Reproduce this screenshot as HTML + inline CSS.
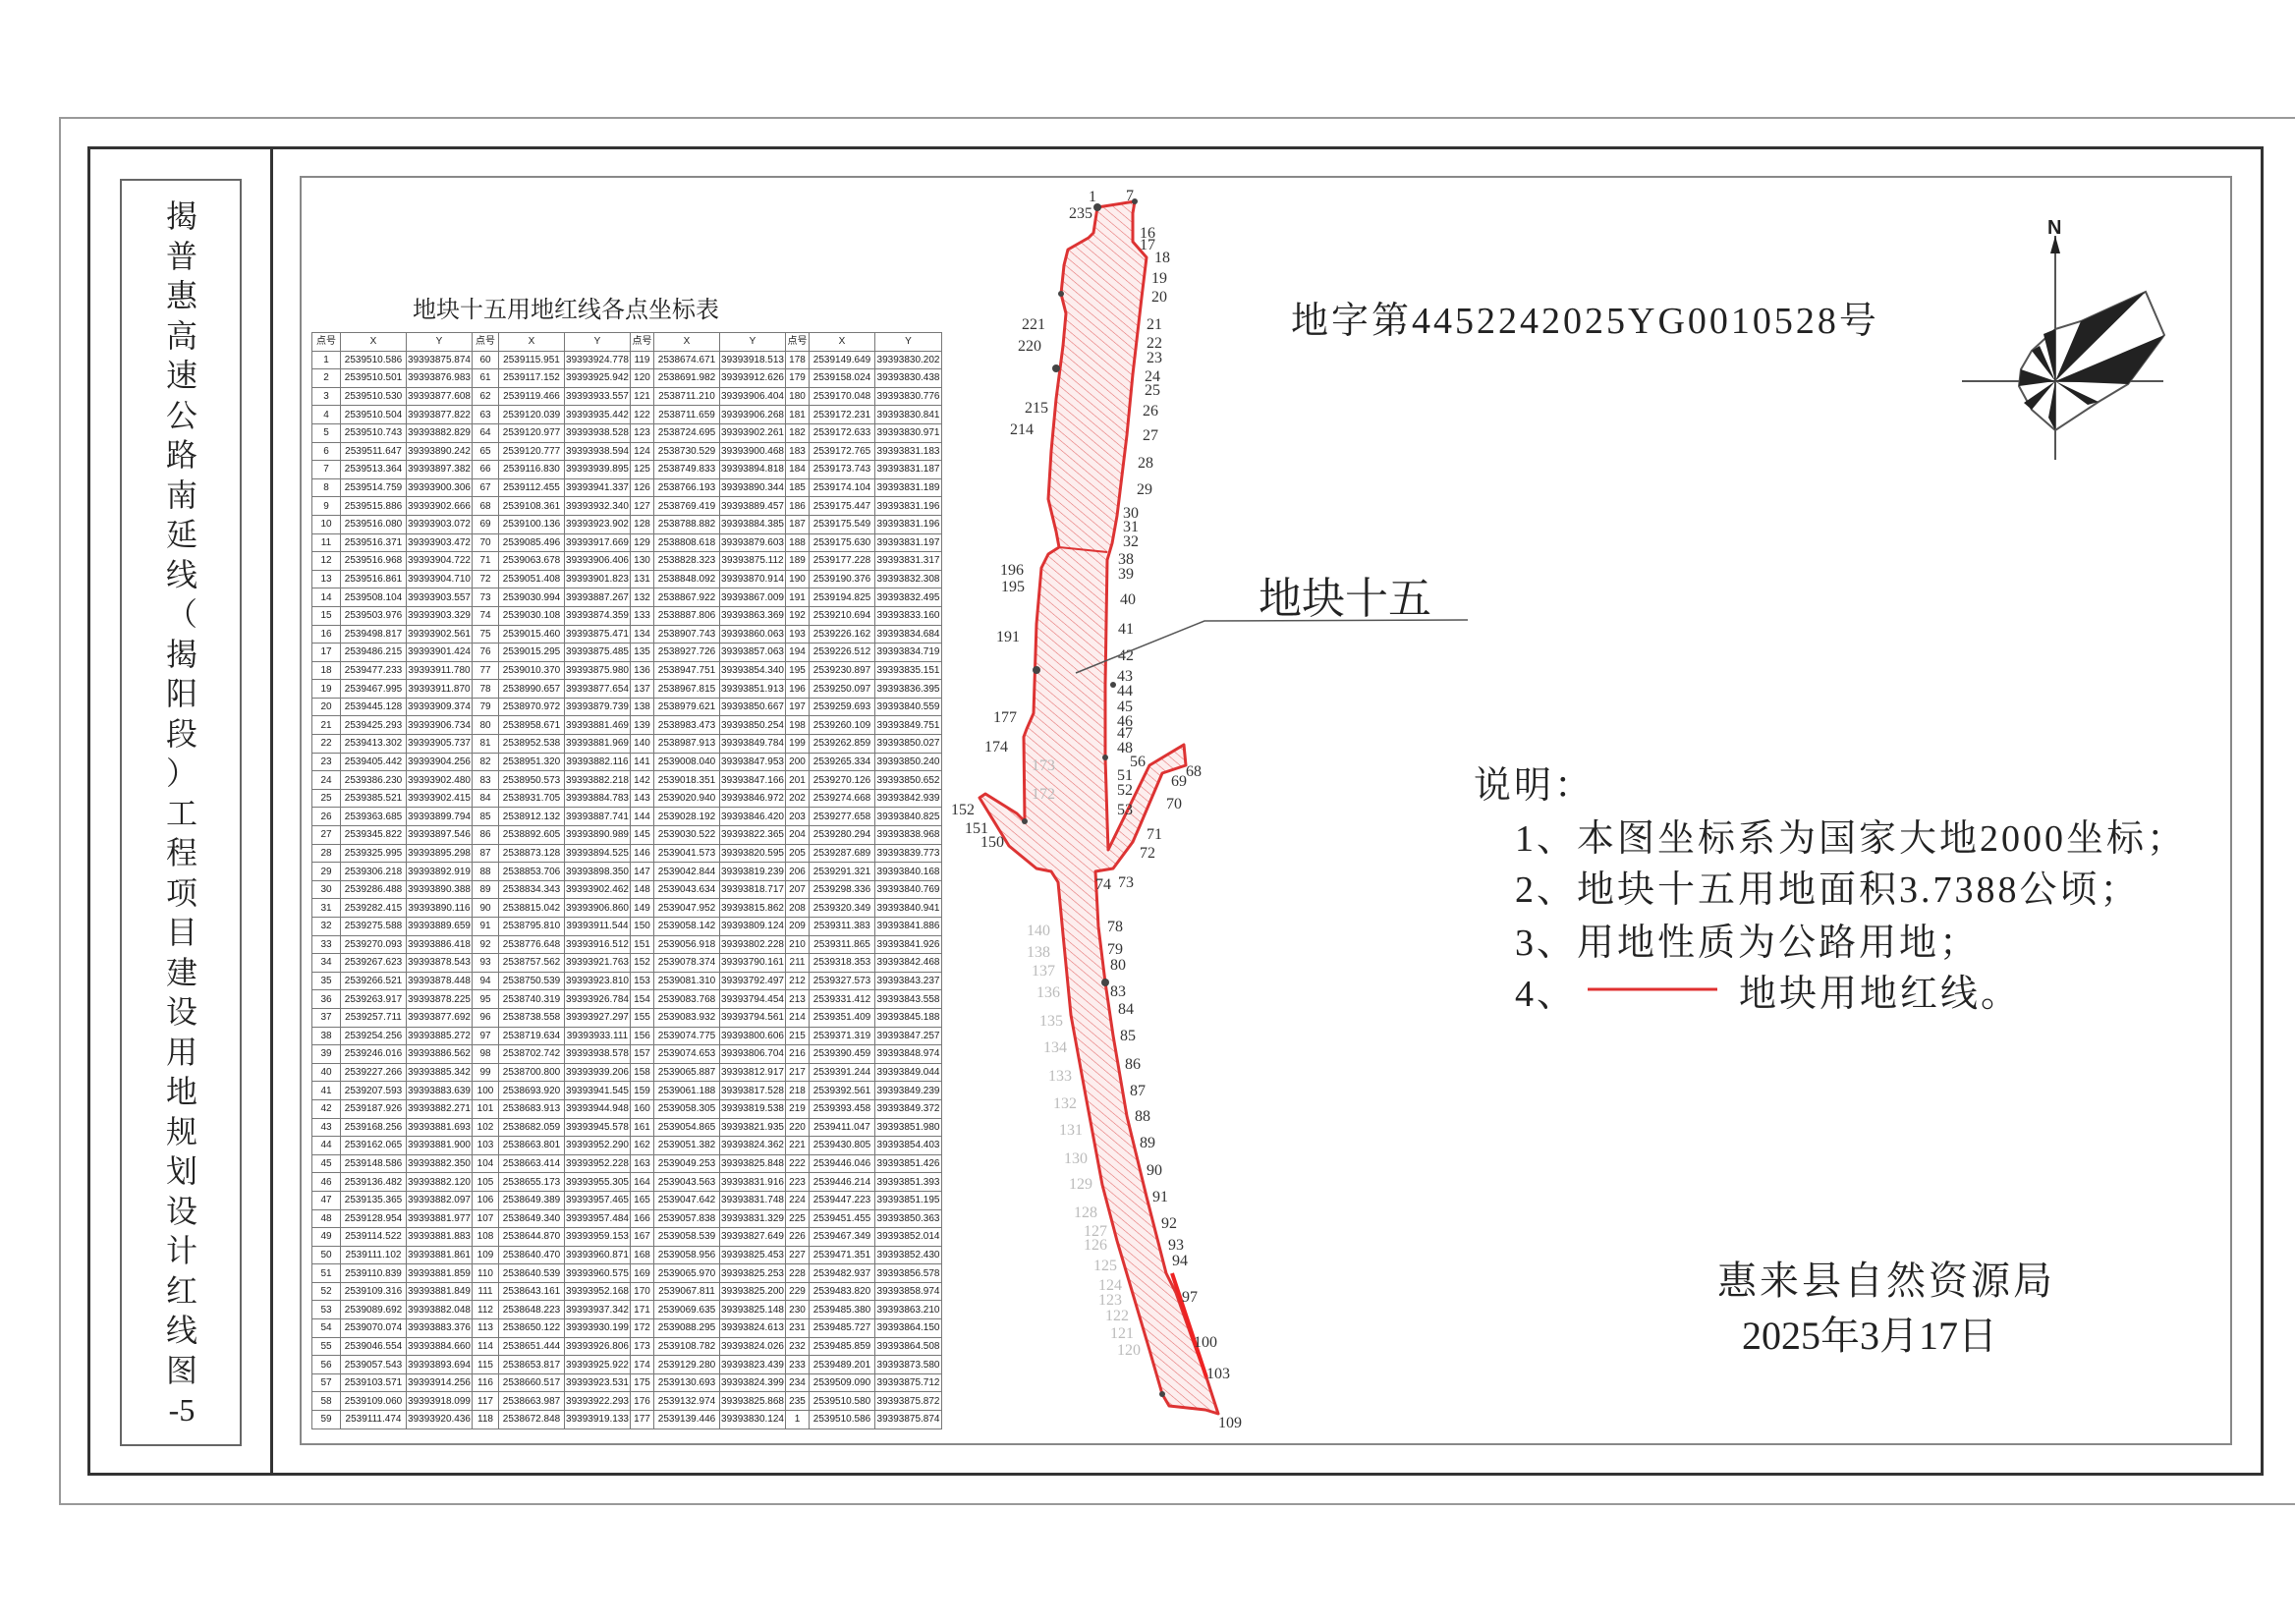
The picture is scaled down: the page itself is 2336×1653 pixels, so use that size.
<!DOCTYPE html>
<html><head><meta charset="utf-8"><style>
body{margin:0;width:2336px;height:1653px;background:#fff;position:relative;overflow:hidden;font-family:"Liberation Serif","Noto Serif CJK SC",serif;}
.a{position:absolute;}
table{position:absolute;left:317px;top:338px;border-collapse:collapse;table-layout:fixed;width:641px;font-family:"Liberation Sans","Noto Sans CJK SC",sans-serif;font-size:10px;color:#222;}
td{border:1px solid #777;height:17.6px;padding:0;text-align:center;white-space:nowrap;overflow:hidden;line-height:17px;}
.t{font-size:32px;line-height:40.5px;width:40px;text-align:center;color:#222}
.n{font-size:38px;color:#222;letter-spacing:3px}
</style></head><body>
<div class="a" style="left:60px;top:119px;width:2276px;height:1413px;border:2px solid #999;border-right:none;box-sizing:border-box"></div>
<div class="a" style="left:89px;top:149px;width:2215px;height:1353px;border:3px solid #333;box-sizing:border-box"></div>
<div class="a" style="left:122px;top:182px;width:124px;height:1290px;border:2px solid #666;box-sizing:border-box"></div>
<div class="a" style="left:275px;top:149px;width:3px;height:1353px;background:#333"></div>
<div class="a" style="left:305px;top:179px;width:1967px;height:1292px;border:2px solid #888;box-sizing:border-box"></div>
<div class="a t" style="left:165px;top:200px">揭<br>普<br>惠<br>高<br>速<br>公<br>路<br>南<br>延<br>线<br>（<br>揭<br>阳<br>段<br>）<br>工<br>程<br>项<br>目<br>建<br>设<br>用<br>地<br>规<br>划<br>设<br>计<br>红<br>线<br>图<br>-5</div>
<div class="a" style="left:420px;top:295px;font-size:24px;color:#222">地块十五用地红线各点坐标表</div>
<table>
<colgroup><col style="width:29px"><col style="width:67px"><col style="width:67px"><col style="width:27px"><col style="width:67px"><col style="width:67px"><col style="width:24px"><col style="width:67px"><col style="width:67px"><col style="width:24px"><col style="width:67px"><col style="width:68px"></colgroup>
<tr><td>点号<td>X<td>Y<td>点号<td>X<td>Y<td>点号<td>X<td>Y<td>点号<td>X<td>Y
<tr><td>1<td>2539510.586<td>39393875.874<td>60<td>2539115.951<td>39393924.778<td>119<td>2538674.671<td>39393918.513<td>178<td>2539149.649<td>39393830.202
<tr><td>2<td>2539510.501<td>39393876.983<td>61<td>2539117.152<td>39393925.942<td>120<td>2538691.982<td>39393912.626<td>179<td>2539158.024<td>39393830.438
<tr><td>3<td>2539510.530<td>39393877.608<td>62<td>2539119.466<td>39393933.557<td>121<td>2538711.210<td>39393906.404<td>180<td>2539170.048<td>39393830.776
<tr><td>4<td>2539510.504<td>39393877.822<td>63<td>2539120.039<td>39393935.442<td>122<td>2538711.659<td>39393906.268<td>181<td>2539172.231<td>39393830.841
<tr><td>5<td>2539510.743<td>39393882.829<td>64<td>2539120.977<td>39393938.528<td>123<td>2538724.695<td>39393902.261<td>182<td>2539172.633<td>39393830.971
<tr><td>6<td>2539511.647<td>39393890.242<td>65<td>2539120.777<td>39393938.594<td>124<td>2538730.529<td>39393900.468<td>183<td>2539172.765<td>39393831.183
<tr><td>7<td>2539513.364<td>39393897.382<td>66<td>2539116.830<td>39393939.895<td>125<td>2538749.833<td>39393894.818<td>184<td>2539173.743<td>39393831.187
<tr><td>8<td>2539514.759<td>39393900.306<td>67<td>2539112.455<td>39393941.337<td>126<td>2538766.193<td>39393890.344<td>185<td>2539174.104<td>39393831.189
<tr><td>9<td>2539515.886<td>39393902.666<td>68<td>2539108.361<td>39393932.340<td>127<td>2538769.419<td>39393889.457<td>186<td>2539175.447<td>39393831.196
<tr><td>10<td>2539516.080<td>39393903.072<td>69<td>2539100.136<td>39393923.902<td>128<td>2538788.882<td>39393884.385<td>187<td>2539175.549<td>39393831.196
<tr><td>11<td>2539516.371<td>39393903.472<td>70<td>2539085.496<td>39393917.669<td>129<td>2538808.618<td>39393879.603<td>188<td>2539175.630<td>39393831.197
<tr><td>12<td>2539516.968<td>39393904.722<td>71<td>2539063.678<td>39393906.406<td>130<td>2538828.323<td>39393875.112<td>189<td>2539177.228<td>39393831.317
<tr><td>13<td>2539516.861<td>39393904.710<td>72<td>2539051.408<td>39393901.823<td>131<td>2538848.092<td>39393870.914<td>190<td>2539190.376<td>39393832.308
<tr><td>14<td>2539508.104<td>39393903.557<td>73<td>2539030.994<td>39393887.267<td>132<td>2538867.922<td>39393867.009<td>191<td>2539194.825<td>39393832.495
<tr><td>15<td>2539503.976<td>39393903.329<td>74<td>2539030.108<td>39393874.359<td>133<td>2538887.806<td>39393863.369<td>192<td>2539210.694<td>39393833.160
<tr><td>16<td>2539498.817<td>39393902.561<td>75<td>2539015.460<td>39393875.471<td>134<td>2538907.743<td>39393860.063<td>193<td>2539226.162<td>39393834.684
<tr><td>17<td>2539486.215<td>39393901.424<td>76<td>2539015.295<td>39393875.485<td>135<td>2538927.726<td>39393857.063<td>194<td>2539226.512<td>39393834.719
<tr><td>18<td>2539477.233<td>39393911.780<td>77<td>2539010.370<td>39393875.980<td>136<td>2538947.751<td>39393854.340<td>195<td>2539230.897<td>39393835.151
<tr><td>19<td>2539467.995<td>39393911.870<td>78<td>2538990.657<td>39393877.654<td>137<td>2538967.815<td>39393851.913<td>196<td>2539250.097<td>39393836.395
<tr><td>20<td>2539445.128<td>39393909.374<td>79<td>2538970.972<td>39393879.739<td>138<td>2538979.621<td>39393850.667<td>197<td>2539259.693<td>39393840.559
<tr><td>21<td>2539425.293<td>39393906.734<td>80<td>2538958.671<td>39393881.469<td>139<td>2538983.473<td>39393850.254<td>198<td>2539260.109<td>39393849.751
<tr><td>22<td>2539413.302<td>39393905.737<td>81<td>2538952.538<td>39393881.969<td>140<td>2538987.913<td>39393849.784<td>199<td>2539262.859<td>39393850.027
<tr><td>23<td>2539405.442<td>39393904.256<td>82<td>2538951.320<td>39393882.116<td>141<td>2539008.040<td>39393847.953<td>200<td>2539265.334<td>39393850.240
<tr><td>24<td>2539386.230<td>39393902.480<td>83<td>2538950.573<td>39393882.218<td>142<td>2539018.351<td>39393847.166<td>201<td>2539270.126<td>39393850.652
<tr><td>25<td>2539385.521<td>39393902.415<td>84<td>2538931.705<td>39393884.783<td>143<td>2539020.940<td>39393846.972<td>202<td>2539274.668<td>39393842.939
<tr><td>26<td>2539363.685<td>39393899.794<td>85<td>2538912.132<td>39393887.741<td>144<td>2539028.192<td>39393846.420<td>203<td>2539277.658<td>39393840.825
<tr><td>27<td>2539345.822<td>39393897.546<td>86<td>2538892.605<td>39393890.989<td>145<td>2539030.522<td>39393822.365<td>204<td>2539280.294<td>39393838.968
<tr><td>28<td>2539325.995<td>39393895.298<td>87<td>2538873.128<td>39393894.525<td>146<td>2539041.573<td>39393820.595<td>205<td>2539287.689<td>39393839.773
<tr><td>29<td>2539306.218<td>39393892.919<td>88<td>2538853.706<td>39393898.350<td>147<td>2539042.844<td>39393819.239<td>206<td>2539291.321<td>39393840.168
<tr><td>30<td>2539286.488<td>39393890.388<td>89<td>2538834.343<td>39393902.462<td>148<td>2539043.634<td>39393818.717<td>207<td>2539298.336<td>39393840.769
<tr><td>31<td>2539282.415<td>39393890.116<td>90<td>2538815.042<td>39393906.860<td>149<td>2539047.952<td>39393815.862<td>208<td>2539320.349<td>39393840.941
<tr><td>32<td>2539275.588<td>39393889.659<td>91<td>2538795.810<td>39393911.544<td>150<td>2539058.142<td>39393809.124<td>209<td>2539311.383<td>39393841.886
<tr><td>33<td>2539270.093<td>39393886.418<td>92<td>2538776.648<td>39393916.512<td>151<td>2539056.918<td>39393802.228<td>210<td>2539311.865<td>39393841.926
<tr><td>34<td>2539267.623<td>39393878.543<td>93<td>2538757.562<td>39393921.763<td>152<td>2539078.374<td>39393790.161<td>211<td>2539318.353<td>39393842.468
<tr><td>35<td>2539266.521<td>39393878.448<td>94<td>2538750.539<td>39393923.810<td>153<td>2539081.310<td>39393792.497<td>212<td>2539327.573<td>39393843.237
<tr><td>36<td>2539263.917<td>39393878.225<td>95<td>2538740.319<td>39393926.784<td>154<td>2539083.768<td>39393794.454<td>213<td>2539331.412<td>39393843.558
<tr><td>37<td>2539257.711<td>39393877.692<td>96<td>2538738.558<td>39393927.297<td>155<td>2539083.932<td>39393794.561<td>214<td>2539351.409<td>39393845.188
<tr><td>38<td>2539254.256<td>39393885.272<td>97<td>2538719.634<td>39393933.111<td>156<td>2539074.775<td>39393800.606<td>215<td>2539371.319<td>39393847.257
<tr><td>39<td>2539246.016<td>39393886.562<td>98<td>2538702.742<td>39393938.578<td>157<td>2539074.653<td>39393806.704<td>216<td>2539390.459<td>39393848.974
<tr><td>40<td>2539227.266<td>39393885.342<td>99<td>2538700.800<td>39393939.206<td>158<td>2539065.887<td>39393812.917<td>217<td>2539391.244<td>39393849.044
<tr><td>41<td>2539207.593<td>39393883.639<td>100<td>2538693.920<td>39393941.545<td>159<td>2539061.188<td>39393817.528<td>218<td>2539392.561<td>39393849.239
<tr><td>42<td>2539187.926<td>39393882.271<td>101<td>2538683.913<td>39393944.948<td>160<td>2539058.305<td>39393819.538<td>219<td>2539393.458<td>39393849.372
<tr><td>43<td>2539168.256<td>39393881.693<td>102<td>2538682.059<td>39393945.578<td>161<td>2539054.865<td>39393821.935<td>220<td>2539411.047<td>39393851.980
<tr><td>44<td>2539162.065<td>39393881.900<td>103<td>2538663.801<td>39393952.290<td>162<td>2539051.382<td>39393824.362<td>221<td>2539430.805<td>39393854.403
<tr><td>45<td>2539148.586<td>39393882.350<td>104<td>2538663.414<td>39393952.228<td>163<td>2539049.253<td>39393825.848<td>222<td>2539446.046<td>39393851.426
<tr><td>46<td>2539136.482<td>39393882.120<td>105<td>2538655.173<td>39393955.305<td>164<td>2539043.563<td>39393831.916<td>223<td>2539446.214<td>39393851.393
<tr><td>47<td>2539135.365<td>39393882.097<td>106<td>2538649.389<td>39393957.465<td>165<td>2539047.642<td>39393831.748<td>224<td>2539447.223<td>39393851.195
<tr><td>48<td>2539128.954<td>39393881.977<td>107<td>2538649.340<td>39393957.484<td>166<td>2539057.838<td>39393831.329<td>225<td>2539451.455<td>39393850.363
<tr><td>49<td>2539114.522<td>39393881.883<td>108<td>2538644.870<td>39393959.153<td>167<td>2539058.539<td>39393827.649<td>226<td>2539467.349<td>39393852.014
<tr><td>50<td>2539111.102<td>39393881.861<td>109<td>2538640.470<td>39393960.871<td>168<td>2539058.956<td>39393825.453<td>227<td>2539471.351<td>39393852.430
<tr><td>51<td>2539110.839<td>39393881.859<td>110<td>2538640.539<td>39393960.575<td>169<td>2539065.970<td>39393825.253<td>228<td>2539482.937<td>39393856.578
<tr><td>52<td>2539109.316<td>39393881.849<td>111<td>2538643.161<td>39393952.168<td>170<td>2539067.811<td>39393825.200<td>229<td>2539483.820<td>39393858.974
<tr><td>53<td>2539089.692<td>39393882.048<td>112<td>2538648.223<td>39393937.342<td>171<td>2539069.635<td>39393825.148<td>230<td>2539485.380<td>39393863.210
<tr><td>54<td>2539070.074<td>39393883.376<td>113<td>2538650.122<td>39393930.199<td>172<td>2539088.295<td>39393824.613<td>231<td>2539485.727<td>39393864.150
<tr><td>55<td>2539046.554<td>39393884.660<td>114<td>2538651.444<td>39393926.806<td>173<td>2539108.782<td>39393824.026<td>232<td>2539485.859<td>39393864.508
<tr><td>56<td>2539057.543<td>39393893.694<td>115<td>2538653.817<td>39393925.922<td>174<td>2539129.280<td>39393823.439<td>233<td>2539489.201<td>39393873.580
<tr><td>57<td>2539103.571<td>39393914.256<td>116<td>2538660.517<td>39393923.531<td>175<td>2539130.693<td>39393824.399<td>234<td>2539509.090<td>39393875.712
<tr><td>58<td>2539109.060<td>39393918.099<td>117<td>2538663.987<td>39393922.293<td>176<td>2539132.974<td>39393825.868<td>235<td>2539510.580<td>39393875.872
<tr><td>59<td>2539111.474<td>39393920.436<td>118<td>2538672.848<td>39393919.133<td>177<td>2539139.446<td>39393830.124<td>1<td>2539510.586<td>39393875.874
</table>
<svg class="a" style="left:0;top:0" width="2336" height="1653">
<defs><pattern id="h" width="7" height="7" patternUnits="userSpaceOnUse" patternTransform="rotate(-50)"><rect width="7" height="7" fill="#fdeeee"/><line x1="0" y1="0" x2="0" y2="7" stroke="#e46a6a" stroke-width="1.1"/></pattern></defs>
<g stroke="#d33" stroke-width="3" fill="url(#h)" stroke-linejoin="round">
<polygon points="1117,211 1155,205 1153,217 1153,246 1167,262 1162,303 1153,381 1147,443 1137,525 1132,553 1127,570 1125,697 1125,771 1127,836 1128,865 1170,779 1205,758 1207,779 1183,787 1160,841 1153,857 1133,884 1115,887 1118,943 1125,1000 1133,1054 1147,1136 1167,1218 1187,1296 1197,1316 1213,1361 1228,1402 1240,1439 1227,1435 1190,1431 1183,1419 1170,1374 1137,1263 1122,1206 1105,1115 1090,1033 1082,951 1077,898 1070,887 1055,884 1027,861 997,812 1003,808 1035,828 1043,836 1042,750 1045,742 1052,726 1055,635 1060,578 1067,564 1078,557 1075,541 1067,508 1070,459 1075,406 1082,352 1085,319 1080,299 1083,270 1087,254 1108,242 1113,237"/>
</g>
<line x1="1078" y1="557" x2="1127" y2="562" stroke="#d33" stroke-width="2"/>
<polyline points="1193,1296 1228,1402" stroke="#e22" stroke-width="4" fill="none"/>
<g fill="#444"><circle cx="1117" cy="211" r="4"/><circle cx="1155" cy="205" r="3"/><circle cx="1080" cy="299" r="3"/><circle cx="1075" cy="375" r="4"/><circle cx="1055" cy="682" r="4"/><circle cx="1125" cy="771" r="3"/><circle cx="1125" cy="1000" r="4"/><circle cx="1043" cy="836" r="3"/><circle cx="1183" cy="1419" r="3"/><circle cx="1133" cy="697" r="3"/></g>
<g font-family="Liberation Serif" font-size="16" fill="#333">
<text x="1088" y="222">235</text><text x="1108" y="205">1</text><text x="1146" y="204">7</text><text x="1160" y="242">16</text><text x="1160" y="254">17</text><text x="1175" y="267">18</text><text x="1172" y="288">19</text><text x="1172" y="307">20</text><text x="1167" y="335">21</text><text x="1167" y="354">22</text><text x="1167" y="369">23</text><text x="1165" y="388">24</text><text x="1165" y="402">25</text><text x="1163" y="423">26</text><text x="1163" y="448">27</text><text x="1158" y="476">28</text><text x="1157" y="503">29</text><text x="1143" y="527">30</text><text x="1143" y="541">31</text><text x="1143" y="556">32</text><text x="1138" y="574">38</text><text x="1138" y="589">39</text><text x="1140" y="615">40</text><text x="1138" y="645">41</text><text x="1138" y="672">42</text><text x="1137" y="693">43</text><text x="1137" y="708">44</text><text x="1137" y="724">45</text><text x="1137" y="739">46</text><text x="1137" y="751">47</text><text x="1137" y="766">48</text><text x="1137" y="794">51</text><text x="1137" y="809">52</text><text x="1137" y="829">53</text><text x="1150" y="780">56</text><text x="1207" y="790">68</text><text x="1192" y="800">69</text><text x="1187" y="823">70</text><text x="1167" y="854">71</text><text x="1160" y="873">72</text><text x="1138" y="903">73</text><text x="1115" y="905">74</text><text x="1127" y="948">78</text><text x="1127" y="971">79</text><text x="1130" y="987">80</text><text x="1130" y="1014">83</text><text x="1138" y="1032">84</text><text x="1140" y="1059">85</text><text x="1145" y="1088">86</text><text x="1150" y="1115">87</text><text x="1155" y="1141">88</text><text x="1160" y="1168">89</text><text x="1167" y="1196">90</text><text x="1173" y="1223">91</text><text x="1182" y="1250">92</text><text x="1189" y="1272">93</text><text x="1193" y="1288">94</text><text x="1203" y="1325">97</text><text x="1215" y="1371">100</text><text x="1228" y="1403">103</text><text x="1240" y="1453">109</text>
<text x="1040" y="335">221</text><text x="1036" y="357">220</text><text x="1043" y="420">215</text><text x="1028" y="442">214</text><text x="1018" y="585">196</text><text x="1019" y="602">195</text><text x="1014" y="653">191</text><text x="1011" y="735">177</text><text x="1002" y="765">174</text><text x="968" y="829">152</text><text x="982" y="848">151</text><text x="998" y="862">150</text></g>
<g font-family="Liberation Serif" font-size="16" fill="#bbb"><text x="1050" y="784">173</text><text x="1050" y="813">172</text><text x="1045" y="952">140</text><text x="1045" y="974">138</text><text x="1050" y="993">137</text><text x="1055" y="1015">136</text><text x="1058" y="1044">135</text><text x="1062" y="1071">134</text><text x="1067" y="1100">133</text><text x="1072" y="1128">132</text><text x="1078" y="1155">131</text><text x="1083" y="1184">130</text><text x="1088" y="1210">129</text><text x="1093" y="1239">128</text><text x="1103" y="1258">127</text><text x="1103" y="1272">126</text><text x="1113" y="1293">125</text><text x="1118" y="1313">124</text><text x="1118" y="1328">123</text><text x="1125" y="1344">122</text><text x="1130" y="1362">121</text><text x="1137" y="1379">120</text></g>
<polyline points="1095,685 1226,632 1494,631" fill="none" stroke="#555" stroke-width="1.5"/>
<line x1="1616" y1="1007" x2="1748" y2="1007" stroke="#e03030" stroke-width="3"/>
<g stroke="#555" stroke-width="2" fill="none"><line x1="2092" y1="240" x2="2092" y2="468"/><line x1="1997" y1="388" x2="2202" y2="388"/>
<polygon points="2092,335 2118,327 2184,297 2203,341 2166,391 2136,409 2092,438 2068,417 2055,393 2057,376 2068,357"/></g>
<polygon points="2092,240 2087,258 2097,258" fill="#222"/>
<g fill="#222"><polygon points="2092,388 2118,327 2184,297"/><polygon points="2092,388 2203,341 2166,391"/><polygon points="2092,388 2136,409 2125,412"/><polygon points="2092,388 2092,438 2085,425"/><polygon points="2092,388 2068,417 2060,410"/><polygon points="2092,388 2055,393 2057,376"/><polygon points="2092,388 2068,357 2076,352"/><polygon points="2092,388 2092,335 2080,340"/></g>
<text x="2084" y="238" font-family="Liberation Sans" font-weight="bold" font-size="20" fill="#222">N</text>
</svg>
<div class="a" style="left:1314px;top:295px;font-size:38px;color:#222;letter-spacing:3px">地字第4452242025YG0010528号</div>
<div class="a" style="left:1281px;top:573px;font-size:44px;color:#222">地块十五</div>
<div class="a n" style="left:1500px;top:768px">说明：</div>
<div class="a n" style="left:1542px;top:822px">1、本图坐标系为国家大地2000坐标；</div>
<div class="a n" style="left:1542px;top:874px">2、地块十五用地面积3.7388公顷；</div>
<div class="a n" style="left:1542px;top:928px">3、用地性质为公路用地；</div>
<div class="a n" style="left:1542px;top:980px">4、</div>
<div class="a n" style="left:1770px;top:980px">地块用地红线。</div>
<div class="a" style="left:1748px;top:1272px;font-size:40px;color:#222;letter-spacing:3px">惠来县自然资源局</div>
<div class="a" style="left:1773px;top:1328px;font-size:40px;color:#222">2025年3月17日</div>
</body></html>
